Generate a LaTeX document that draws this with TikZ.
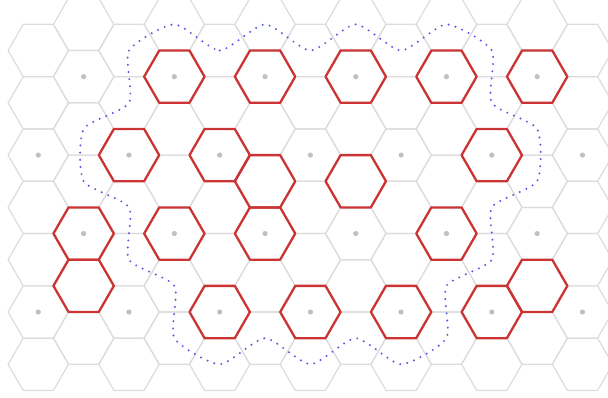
\documentclass[tikz,border=0pt]{standalone}
\definecolor{gridgray}{RGB}{220,220,220}
\definecolor{dotgray}{RGB}{192,192,192}
\definecolor{hexred}{RGB}{204,51,51}
\definecolor{pathblue}{RGB}{85,85,230}
\tikzset{
  gridhex/.style={draw=gridgray, line width=1.2pt},
  redhex/.style={draw=hexred, line width=2.3pt, line join=round},
  centerdot/.style={fill=dotgray},
  boundary/.style={draw=pathblue, line width=2.2pt, line cap=round, dash pattern=on 0pt off 7.2pt},
}
\begin{document}
\begin{tikzpicture}[x=1pt,y=-1pt]
\useasboundingbox (0,0) rectangle (608,397);
% background grid
\foreach \c in {0,...,12}{
  \foreach \k in {0,...,6}{
    \pgfmathsetmacro\hx{38.3+45.35*\c}
    \pgfmathsetmacro\hy{-1.8+26.15*(2*\k+2-mod(\c,2))}
    \draw[gridhex] (\hx,\hy) +(0:30.2pt) -- +(60:30.2pt) -- +(120:30.2pt) -- +(180:30.2pt) -- +(240:30.2pt) -- +(300:30.2pt) -- cycle;
  }
}
% highlighted hexes
\foreach \c/\r in {3/3,5/3,7/3,9/3,11/3,2/6,4/6,10/6,5/7,7/7,1/9,3/9,5/9,9/9,1/11,11/11,4/12,6/12,8/12,10/12}{
  \pgfmathsetmacro\hx{38.3+45.35*\c}
  \pgfmathsetmacro\hy{-1.8+26.15*\r}
  \draw[redhex] (\hx,\hy) +(0:30.2pt) -- +(60:30.2pt) -- +(120:30.2pt) -- +(180:30.2pt) -- +(240:30.2pt) -- +(300:30.2pt) -- cycle;
}
% center dots
\foreach \c/\r in {1/3,3/3,5/3,7/3,9/3,11/3,0/6,2/6,4/6,6/6,8/6,10/6,12/6,1/9,3/9,5/9,7/9,9/9,11/9,0/12,2/12,4/12,6/12,8/12,10/12,12/12}{
  \pgfmathsetmacro\hx{38.3+45.35*\c}
  \pgfmathsetmacro\hy{-1.8+26.15*\r}
  \fill[centerdot] (\hx,\hy) circle (2.6pt);
}
% dotted boundary
\draw[boundary] plot[smooth cycle, tension=0.38] coordinates {
  (174.35,24.35) (219.7,50.5) (265.05,24.35) (310.4,50.5) (355.75,24.35) (401.1,50.5) (446.45,24.35)
  (491.8,50.5) (491.8,102.8) (537.15,128.95) (537.15,181.25) (491.8,207.4) (491.8,259.7)
  (446.45,285.85) (446.45,338.15) (401.1,364.3) (355.75,338.15) (310.4,364.3) (265.05,338.15)
  (219.7,364.3) (174.35,338.15) (174.35,285.85) (129.0,259.7) (129.0,207.4) (83.65,181.25)
  (83.65,128.95) (129.0,102.8) (129.0,50.5)
};
\end{tikzpicture}
\end{document}
